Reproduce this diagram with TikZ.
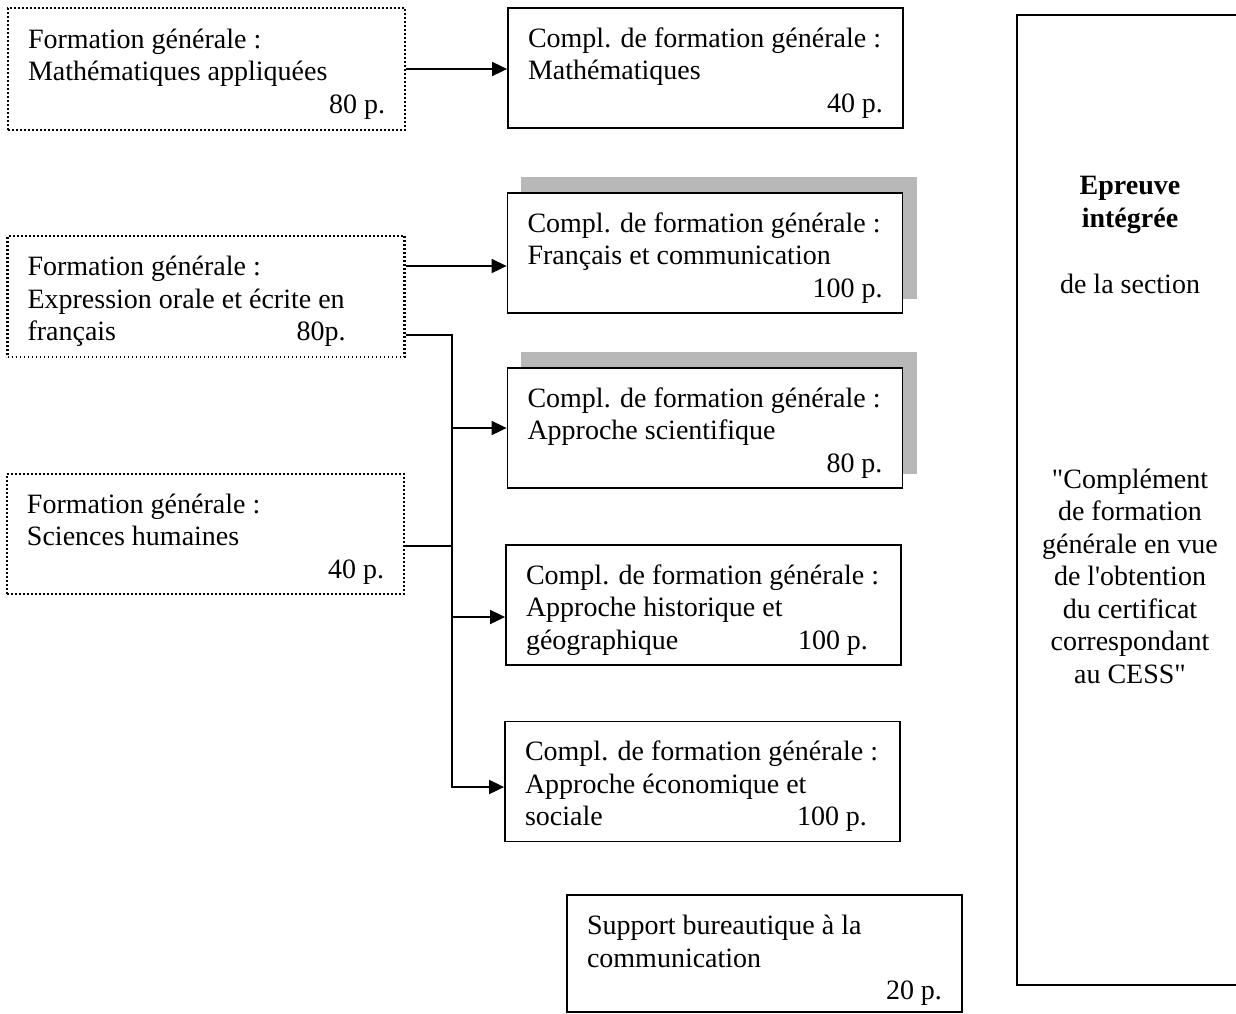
\documentclass[tikz,border=0pt]{standalone}
\usepackage{fontspec}
\setmainfont{Liberation Serif}
\usetikzlibrary{arrows.meta}
\pgfdeclarelayer{bg}
\pgfsetlayers{bg,main}
\newcommand\fsz{\fontsize{28}{32.5}\selectfont}
\newcommand\La[1]{\makebox[357pt][l]{#1}}
\newcommand\Ra[1]{\makebox[357pt][r]{#1}}
\newcommand\Lb[1]{\makebox[355pt][l]{#1}}
\newcommand\Rb[1]{\makebox[355pt][r]{#1}}
\newcommand\dq{\XeTeXglyph\XeTeXcharglyph"22\relax}
\newcommand\sq{\XeTeXglyph\XeTeXcharglyph"27\relax}
\begin{document}
\begin{tikzpicture}[x=1pt,y=-1pt,
  fbox/.style={draw,line width=1.8pt,fill=white,align=left,inner xsep=20pt,inner ysep=0pt,minimum height=120pt,font=\fsz,text height=95pt,text depth=7pt},
  abox/.style={fbox,minimum width=397pt,line width=2.2pt,dash pattern=on 1.8pt off 2.2pt},
  bbox/.style={fbox,minimum width=395pt},
  conn/.style={line width=1.8pt},
  arr/.style={conn,-{Triangle[length=15pt,width=14pt]}},
  shade/.style={fill=black!28},
  etext/.style={font=\fsz,align=center,inner sep=0pt}]
\useasboundingbox (0,0) rectangle (1236,1013);

% left (dotted) boxes
\node[abox,minimum height=122pt] (A1) at (206.5,69) {\La{Formation générale :}\\\La{Mathématiques appliquées}\\\Ra{80 p.}};
\node[abox,minimum height=121pt] (A2) at (206,296.5) {\La{Formation générale :}\\\La{Expression orale et écrite en}\\\La{\makebox[269pt][l]{français}80p.}};
\node[abox] (A3) at (205.5,534) {\La{Formation générale :}\\\La{Sciences humaines}\\\Ra{40 p.}};

% middle boxes
\node[bbox] (B1) at (705.5,68) {\Lb{Compl. de formation générale :}\\\Lb{Mathématiques}\\\Rb{40 p.}};
\node[bbox] (B2) at (705,253) {\Lb{Compl. de formation générale :}\\\Lb{Français et communication}\\\Rb{100 p.}};
\node[bbox] (B3) at (705,428) {\Lb{Compl. de formation générale :}\\\Lb{Approche scientifique}\\\Rb{80 p.}};
\node[bbox] (B4) at (703.5,605) {\Lb{Compl. de formation générale :}\\\Lb{Approche historique et}\\\Lb{\makebox[272pt][l]{géographique}100 p.}};
\node[bbox] (B5) at (702.5,781.5) {\Lb{Compl. de formation générale :}\\\Lb{Approche économique et}\\\Lb{\makebox[272pt][l]{sociale}100 p.}};
\node[bbox,minimum height=117pt,text height=99pt] (B6) at (764.5,953.5) {\Lb{Support bureautique à la}\\\Lb{communication}\\\Rb{20 p.}};

% shadows
\begin{pgfonlayer}{bg}
\fill[shade] ([xshift=14pt,yshift=15pt]B2.south west) rectangle ([xshift=14pt,yshift=15pt]B2.north east);
\fill[shade] ([xshift=14pt,yshift=15pt]B3.south west) rectangle ([xshift=14pt,yshift=15pt]B3.north east);
\end{pgfonlayer}

% right frame
\node[minimum width=219pt,minimum height=970pt,inner sep=0pt] (E) at (1126.5,500) {};
\draw[line width=1.8pt] (E.north east) -| (E.south west) -- (E.south east);
\node[etext,font=\fsz\bfseries] (E1) at (1130,205) {Epreuve\\intégrée};
\node[etext] (E2) at (1130,284) {de la section};
\node[etext] (E3) at (1130,576) {\dq Complément\\de formation\\générale en vue\\de l\sq obtention\\du certificat\\correspondant\\au CESS\dq};

% connectors
\coordinate (bus) at (452,0);
\coordinate (r2a) at (0,266);
\coordinate (r2b) at (0,335);
\coordinate (r3) at (0,546);
\coordinate (t3) at (0,428);
\coordinate (t4) at (0,617);
\coordinate (t5) at (0,787);
\draw[arr] (A1.east) -- (A1.east -| B1.west);
\draw[arr] (A2.east |- r2a) -- (B2.west |- r2a);
\draw[arr] (A2.east |- r2b) -| (bus |- t5) -- (B5.west |- t5);
\draw[conn] (A3.east |- r3) -- (bus |- r3);
\draw[arr] (bus |- t3) -- (B3.west |- t3);
\draw[arr] (bus |- t4) -- (B4.west |- t4);
\end{tikzpicture}
\end{document}
